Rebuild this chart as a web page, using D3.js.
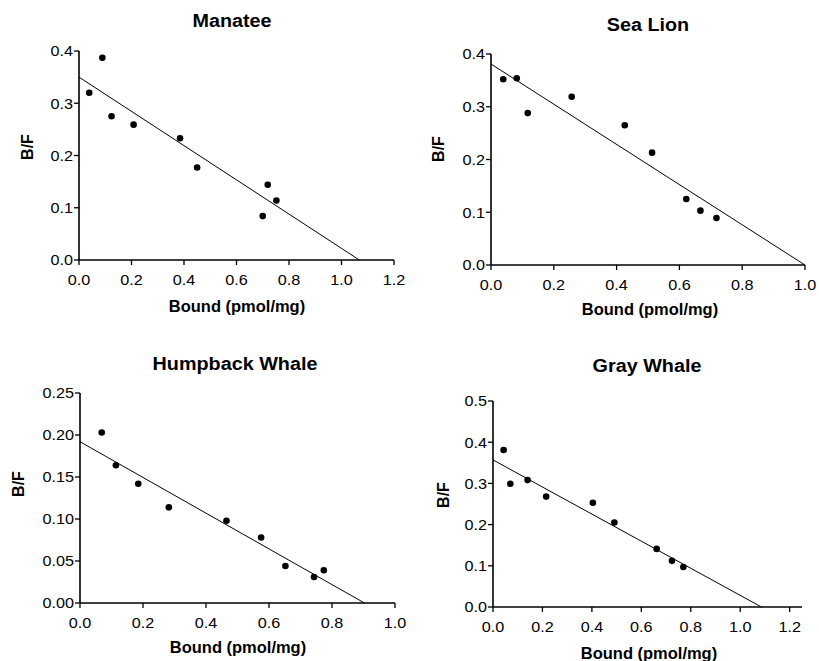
<!DOCTYPE html>
<html>
<head>
<meta charset="utf-8">
<script src="https://cdn.jsdelivr.net/npm/d3@7"></script>
<style>
  html, body { margin: 0; padding: 0; background: #fff; }
  svg { display: block; }
  text { font-family: "Liberation Sans", Arial, Helvetica, sans-serif; fill: #000; }
</style>
</head>
<body>
<svg id="chart" width="819" height="661"></svg>
<script>
// ---------------- DATA ----------------
const titles = ["Manatee", "Sea Lion", "Humpback Whale", "Gray Whale"];
const xAxisLabel = "Bound (pmol/mg)";
const yAxisLabel = "B/F";

const manateeBound = [0.039, 0.089, 0.124, 0.208, 0.385, 0.450, 0.700, 0.719, 0.752];
const manateeBF    = [0.320, 0.387, 0.275, 0.259, 0.233, 0.177, 0.084, 0.144, 0.114];

const seaLionBound = [0.039, 0.082, 0.117, 0.257, 0.426, 0.513, 0.622, 0.667, 0.718];
const seaLionBF    = [0.352, 0.354, 0.288, 0.319, 0.265, 0.213, 0.125, 0.103, 0.089];

const humpbackBound = [0.069, 0.114, 0.185, 0.282, 0.465, 0.575, 0.652, 0.743, 0.774];
const humpbackBF    = [0.203, 0.164, 0.142, 0.114, 0.098, 0.078, 0.044, 0.031, 0.039];

const grayBound = [0.043, 0.070, 0.140, 0.215, 0.404, 0.491, 0.662, 0.724, 0.770];
const grayBF    = [0.381, 0.299, 0.308, 0.268, 0.253, 0.205, 0.141, 0.112, 0.097];

// Scatchard fit lines: B/F intercept and Bound intercept
const fitYIntercepts = [0.350, 0.381, 0.192, 0.357];
const fitXIntercepts = [1.068, 1.000, 0.903, 1.086];

// axis domains and ticks
const xMaxes = [1.2, 1.0, 1.0, 1.25];
const yMaxes = [0.4, 0.4, 0.25, 0.5];
const xTickValues = [
  [0, 0.2, 0.4, 0.6, 0.8, 1.0, 1.2],
  [0, 0.2, 0.4, 0.6, 0.8, 1.0],
  [0, 0.2, 0.4, 0.6, 0.8, 1.0],
  [0, 0.2, 0.4, 0.6, 0.8, 1.0, 1.2]
];
const yTickValues = [
  [0, 0.1, 0.2, 0.3, 0.4],
  [0, 0.1, 0.2, 0.3, 0.4],
  [0, 0.05, 0.10, 0.15, 0.20, 0.25],
  [0, 0.1, 0.2, 0.3, 0.4, 0.5]
];
const yTickFormats = [".1f", ".1f", ".2f", ".1f"];

// ---------------- LAYOUT ----------------
const layout = [
  { left: 79,  right: 394, top: 51,  bottom: 260, titleX: 232, titleY: 27,  xlabX: 237, xlabY: 312, ylabX: 27,  ylabY: 147 },
  { left: 491, right: 805, top: 54,  bottom: 265, titleX: 648, titleY: 31,  xlabX: 650, xlabY: 315, ylabX: 438, ylabY: 149 },
  { left: 80,  right: 395, top: 393, bottom: 603, titleX: 235, titleY: 370, xlabX: 238, xlabY: 653, ylabX: 18,  ylabY: 484 },
  { left: 493, right: 802, top: 401, bottom: 607, titleX: 647, titleY: 372, xlabX: 649, xlabY: 659, ylabX: 443, ylabY: 495 }
];

const seriesX = [manateeBound, seaLionBound, humpbackBound, grayBound];
const seriesY = [manateeBF, seaLionBF, humpbackBF, grayBF];

const svg = d3.select("#chart");

function stretchedText(g, x, y, str, opts) {
  const t = g.append("text")
    .attr("transform", `translate(${x},${y}) scale(${opts.sx},1)`)
    .attr("text-anchor", opts.anchor || "middle")
    .attr("font-size", opts.size)
    .attr("font-weight", opts.bold ? "bold" : "normal")
    .text(str);
  if (opts.dy) t.attr("dy", opts.dy);
  return t;
}

layout.forEach((L, i) => {
  const g = svg.append("g");
  const x = d3.scaleLinear().domain([0, xMaxes[i]]).range([L.left, L.right]);
  const y = d3.scaleLinear().domain([0, yMaxes[i]]).range([L.bottom, L.top]);
  const yFmt = d3.format(yTickFormats[i]);
  const xFmt = d3.format(".1f");

  // axes lines
  g.append("line").attr("x1", x(0)).attr("x2", x(0)).attr("y1", y(yMaxes[i])).attr("y2", y(0))
    .attr("stroke", "#000").attr("stroke-width", 1.6);
  g.append("line").attr("x1", x(0)).attr("x2", x(xMaxes[i])).attr("y1", y(0)).attr("y2", y(0))
    .attr("stroke", "#000").attr("stroke-width", 1.4);

  // y ticks
  yTickValues[i].forEach(v => {
    g.append("line").attr("x1", x(0) - 5).attr("x2", x(0)).attr("y1", y(v)).attr("y2", y(v))
      .attr("stroke", "#000").attr("stroke-width", 1.3);
    stretchedText(g, x(0) - 6, y(v), yFmt(v), { size: 15, sx: 1.08, anchor: "end", dy: "0.36em" });
  });
  // x ticks
  xTickValues[i].forEach(v => {
    g.append("line").attr("x1", x(v)).attr("x2", x(v)).attr("y1", y(0)).attr("y2", y(0) + 5)
      .attr("stroke", "#000").attr("stroke-width", 1.3);
    stretchedText(g, x(v), y(0) + 25, xFmt(v), { size: 15, sx: 1.08, anchor: "middle" });
  });

  // fit line
  g.append("line")
    .attr("x1", x(0)).attr("y1", y(fitYIntercepts[i]))
    .attr("x2", x(fitXIntercepts[i])).attr("y2", y(0))
    .attr("stroke", "#000").attr("stroke-width", 1);

  // points
  g.selectAll("circle.pt").data(d3.zip(seriesX[i], seriesY[i])).join("circle")
    .attr("class", "pt")
    .attr("cx", d => x(d[0])).attr("cy", d => y(d[1])).attr("r", 3.3)
    .attr("fill", "#000");

  // titles and labels
  stretchedText(g, L.titleX, L.titleY, titles[i], { size: 18.5, bold: true, sx: 1.07 });
  stretchedText(g, L.xlabX, L.xlabY, xAxisLabel, { size: 16, bold: true, sx: 1.03 });
  g.append("text")
    .attr("transform", `translate(${L.ylabX},${L.ylabY}) rotate(-90)`)
    .attr("text-anchor", "middle").attr("dy", "0.36em")
    .attr("font-size", 16).attr("font-weight", "bold")
    .text(yAxisLabel);
});
</script>
</body>
</html>
